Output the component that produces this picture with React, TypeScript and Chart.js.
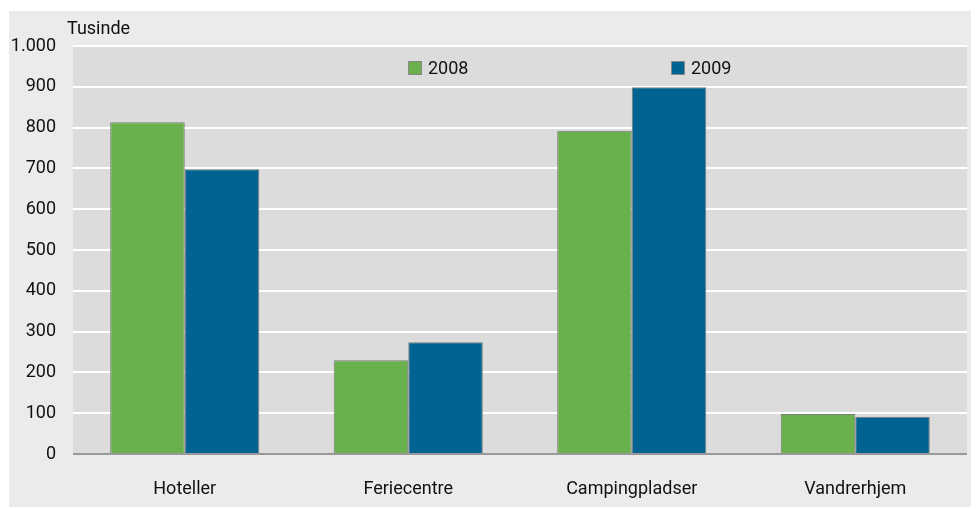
import React, { useEffect, useRef } from "react";
import { Chart, registerables } from "chart.js";

Chart.register(...registerables);

const categories = ["Hoteller", "Feriecentre", "Campingpladser", "Vandrerhjem"];
const series2008 = [813, 230, 792, 98];
const series2009 = [698, 274, 899, 91];
const seriesLabels = ["2008", "2009"];
const yTicks = [0, 100, 200, 300, 400, 500, 600, 700, 800, 900, 1000];
const unitLabel = "Tusinde";

const GREEN = "#6ab04c";
const BLUE = "#006391";
const OUTER_BG = "#ebebeb";
const PLOT_BG = "#dcdcdc";
const FONT = "Roboto, 'Open Sans', sans-serif";

const fmt = (v: number) => v.toLocaleString("da-DK").replace(/\s/g, ".");

const bgPlugin = {
  id: "bgPlugin",
  beforeDraw(chart: any) {
    const { ctx, chartArea } = chart;
    ctx.save();
    ctx.fillStyle = OUTER_BG;
    ctx.fillRect(0, 0, chart.width, chart.height);
    ctx.fillStyle = PLOT_BG;
    ctx.fillRect(chartArea.left, chartArea.top, chartArea.right - chartArea.left, chartArea.bottom - chartArea.top);
    ctx.restore();
  },
  afterDraw(chart: any) {
    const { ctx } = chart;
    ctx.save();
    ctx.font = `18px ${FONT}`;
    ctx.fillStyle = "#111";
    ctx.textBaseline = "middle";
    ctx.textAlign = "left";
    ctx.fillText(unitLabel, 58, 18);
    const items = [
      { x: 399, color: GREEN, label: seriesLabels[0] },
      { x: 662, color: BLUE, label: seriesLabels[1] },
    ];
    items.forEach((it) => {
      ctx.fillStyle = it.color;
      ctx.fillRect(it.x, 50, 14, 14);
      ctx.strokeStyle = "#888";
      ctx.lineWidth = 1;
      ctx.strokeRect(it.x + 0.5, 50.5, 13, 13);
      ctx.fillStyle = "#111";
      ctx.fillText(it.label, it.x + 20, 58);
    });
    ctx.restore();
  },
};

export default function App() {
  const ref = useRef<HTMLCanvasElement>(null);
  useEffect(() => {
    if (!ref.current) return;
    const chart = new Chart(ref.current, {
      type: "bar",
      data: {
        labels: categories,
        datasets: [
          { label: seriesLabels[0], data: series2008, backgroundColor: GREEN, borderColor: "#7a7a7a", borderWidth: 1 },
          { label: seriesLabels[1], data: series2009, backgroundColor: BLUE, borderColor: "#7a7a7a", borderWidth: 1 },
        ],
      },
      options: {
        animation: false,
        responsive: false,
        maintainAspectRatio: false,
        layout: { padding: { left: 0, right: 12, top: 35, bottom: 0 } },
        datasets: { bar: { categoryPercentage: 0.667, barPercentage: 1 } },
        plugins: { legend: { display: false }, tooltip: { enabled: false } },
        scales: {
          x: {
            grid: { display: false, drawTicks: false },
            border: { display: false },
            ticks: { color: "#111", font: { family: FONT, size: 18 }, padding: 25 },
            afterFit: (s: any) => { s.height = 53; },
          },
          y: {
            min: 0,
            max: 1000,
            afterBuildTicks: (s: any) => { s.ticks = yTicks.map((v) => ({ value: v })); },
            grid: {
              drawTicks: false,
              lineWidth: 2,
              color: (c: any) => (c.tick && c.tick.value === 0 ? "#999999" : "#ffffff"),
            },
            border: { display: false },
            ticks: {
              color: "#111",
              font: { family: FONT, size: 18 },
              padding: 17,
              callback: (v: any) => fmt(Number(v)),
            },
            afterFit: (s: any) => { s.width = 64; },
          },
        },
      },
      plugins: [bgPlugin],
    });
    return () => chart.destroy();
  }, []);
  return (
    <div style={{ paddingLeft: 1, paddingTop: 3 }}>
      <canvas ref={ref} width={970} height={496} style={{ display: "block" }} />
    </div>
  );
}
